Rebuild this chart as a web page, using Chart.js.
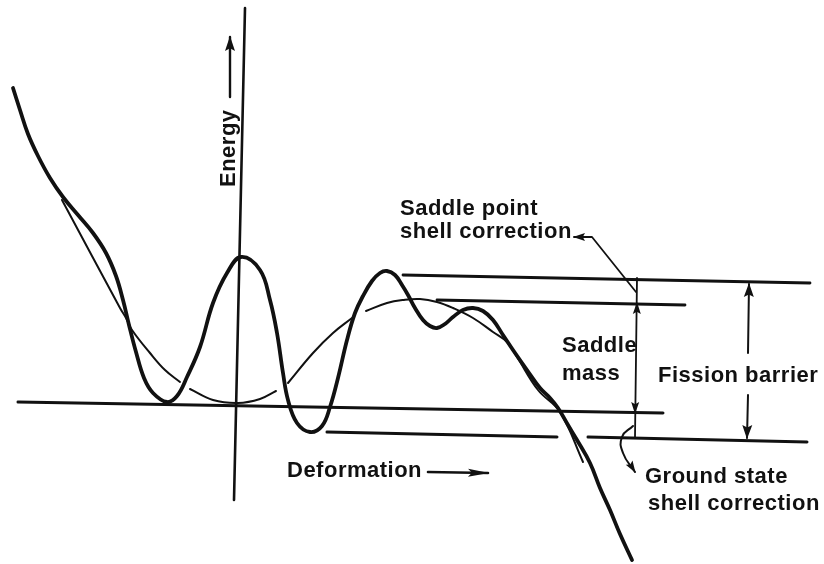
<!DOCTYPE html>
<html>
<head>
<meta charset="utf-8">
<title>Fission barrier</title>
<script src="https://cdn.jsdelivr.net/npm/chart.js@4/dist/chart.umd.min.js"></script>
<style>
  html, body { margin: 0; padding: 0; background: #fff; }
  canvas { display: block; }
</style>
</head>
<body>
<canvas id="barrier" width="824" height="564"></canvas>
<script>
// deformation / energy, arbitrary units, origin at the spherical ground state
var shellEnergy = [
  [-225, 315], [-218, 293], [-210, 269], [-200, 247], [-188, 225], [-175, 206],
  [-160, 188], [-145, 170], [-132, 150], [-122, 127], [-115, 103], [-109, 78],
  [-102, 51], [-94, 25], [-85, 10], [-71, 1], [-61, 7], [-51, 26],
  [-38, 56], [-25, 100], [-11, 130], [3, 146], [22, 133], [32, 103], [39, 70],
  [45, 30], [50, 3], [59, -20], [72, -29], [84, -23], [92, -4], [100, 25],
  [109, 63], [117, 90], [125, 107], [134, 122], [142, 130], [149, 132],
  [157, 128], [164, 118], [170, 108], [177, 95], [185, 83], [192, 77], [199, 75],
  [207, 79], [215, 86], [225, 93], [235, 95], [245, 92], [255, 83], [265, 68],
  [275, 53], [289, 33], [302, 15], [312, 5], [320, -5], [330, -22], [339, -37],
  [352, -60], [362, -85], [372, -107], [382, -131], [394, -157]
];

// liquid drop energy, broken where it passes behind the shell curve
var dropEnergy = [
  [-176, 203], [-118, 95], [-112, 85], [-106, 73], [-88, 50], [-73, 33], [-58, 21],
  null,
  [-48, 14], [-25, 3], [0, 0], [22, 4], [38, 12],
  null,
  [50, 20], [75, 50], [95, 70], [114, 85],
  null,
  [128, 92], [149, 100], [165, 103], [182, 104], [199, 101], [215, 95], [235, 85],
  [255, 71], [269, 61], [279, 46], [300, 13], [322, -9], [345, -59]
];

var sphereLevel = [[-220, 1], [425, -10]];
var groundLevelA = [[89, -29], [319, -34]];
var groundLevelB = [[350, -34], [569, -39]];
var saddleLevel = [[165, 128], [572, 120]];
var dropSaddleLevel = [[199, 103], [447, 98]];
var energyAxis = [[7, 395], [-4, -97]];

var intervalLine = [[399, 125], [397, -34]];
var saddleMassArrow = [[399, 100], [397, -10]];
var barrierUp = [[510, 50], [511, 119]];
var barrierDown = [[510, 8], [509, -35]];
var energyArrow = [[-8, 306], [-8, 366]];
var deformArrow = [[190, -69], [250, -70]];
var saddleLeader = [[398, 111], [354, 166], [336, 166]];
var groundLeader = [[395, -23], [384, -34], [385, -50], [397, -69]];

function pts(list) {
  return list.map(function (p) {
    return p ? { x: p[0], y: p[1] } : { x: null, y: null };
  });
}

function line(list, width, extra) {
  var ds = {
    data: pts(list),
    showLine: true,
    borderColor: '#111',
    borderWidth: width,
    pointRadius: 0,
    tension: 0,
    spanGaps: false,
    borderCapStyle: 'round',
    borderJoinStyle: 'round'
  };
  for (var k in extra) ds[k] = extra[k];
  return ds;
}

// text and where it sits, in the same units as the curves
var notes = [
  { text: 'Energy', x: -3, y: 216, rotate: true },
  { text: 'Saddle point', x: 162, y: 188 },
  { text: 'shell correction', x: 162, y: 165 },
  { text: 'Saddle', x: 324, y: 51 },
  { text: 'mass', x: 324, y: 23 },
  { text: 'Fission barrier', x: 420, y: 21 },
  { text: 'Deformation', x: 49, y: -74 },
  { text: 'Ground state', x: 407, y: -80 },
  { text: 'shell correction', x: 410, y: -107 }
];

var arrowHeads = {
  id: 'arrowHeads',
  afterDatasetsDraw: function (chart) {
    var ctx = chart.ctx;
    chart.data.datasets.forEach(function (ds, i) {
      if (!ds.heads) return;
      var pe = chart.getDatasetMeta(i).data;
      ds.heads.forEach(function (where) {
        var a, b;
        if (where === 'end') { a = pe[pe.length - 2]; b = pe[pe.length - 1]; }
        else { a = pe[1]; b = pe[0]; }
        var ang = Math.atan2(b.y - a.y, b.x - a.x);
        var len = ds.headLen || 12, half = ds.headHalf || 4;
        ctx.save();
        ctx.translate(b.x, b.y);
        ctx.rotate(ang);
        ctx.fillStyle = '#111';
        ctx.beginPath();
        ctx.moveTo(1, 0);
        ctx.lineTo(-len, -half);
        ctx.lineTo(-len * 0.8, 0);
        ctx.lineTo(-len, half);
        ctx.closePath();
        ctx.fill();
        ctx.restore();
      });
    });
  }
};

var labels = {
  id: 'labels',
  afterDraw: function (chart) {
    var ctx = chart.ctx;
    var sx = chart.scales.x, sy = chart.scales.y;
    ctx.save();
    ctx.fillStyle = '#111';
    ctx.font = 'bold 22px "Liberation Sans", Arial, sans-serif';
    ctx.letterSpacing = '0.5px';
    ctx.textBaseline = 'alphabetic';
    ctx.textAlign = 'left';
    notes.forEach(function (n) {
      var px = sx.getPixelForValue(n.x), py = sy.getPixelForValue(n.y);
      ctx.save();
      ctx.translate(px, py);
      if (n.rotate) ctx.rotate(-Math.PI / 2);
      ctx.fillText(n.text, 0, 0);
      ctx.restore();
    });
    ctx.restore();
  }
};

new Chart(document.getElementById('barrier'), {
  type: 'scatter',
  data: {
    datasets: [
      line(energyAxis, 2.6),
      line(sphereLevel, 3),
      line(groundLevelA, 3),
      line(groundLevelB, 3),
      line(saddleLevel, 2.8),
      line(dropSaddleLevel, 2.8),
      line(dropEnergy, 2, { tension: 0.4 }),
      line(shellEnergy, 3.8, { tension: 0.4 }),
      line(intervalLine, 1.8),
      line(saddleMassArrow, 0, { heads: ['start', 'end'], headLen: 11, headHalf: 4 }),
      line(barrierUp, 2, { heads: ['end'], headLen: 13, headHalf: 5 }),
      line(barrierDown, 2, { heads: ['end'], headLen: 13, headHalf: 5 }),
      line(energyArrow, 2.4, { heads: ['end'], headLen: 14, headHalf: 5 }),
      line(deformArrow, 2.6, { heads: ['end'], headLen: 20, headHalf: 4 }),
      line(saddleLeader, 1.8, { heads: ['end'], headLen: 11, headHalf: 4 }),
      line(groundLeader, 2, { tension: 0.5, heads: ['end'], headLen: 11, headHalf: 4 })
    ]
  },
  options: {
    responsive: false,
    devicePixelRatio: 1,
    animation: false,
    layout: { padding: 0 },
    plugins: { legend: { display: false }, tooltip: { enabled: false } },
    scales: {
      x: { type: 'linear', min: -238, max: 586, display: false },
      y: { type: 'linear', min: -161, max: 403, display: false }
    }
  },
  plugins: [arrowHeads, labels]
});
</script>
</body>
</html>
